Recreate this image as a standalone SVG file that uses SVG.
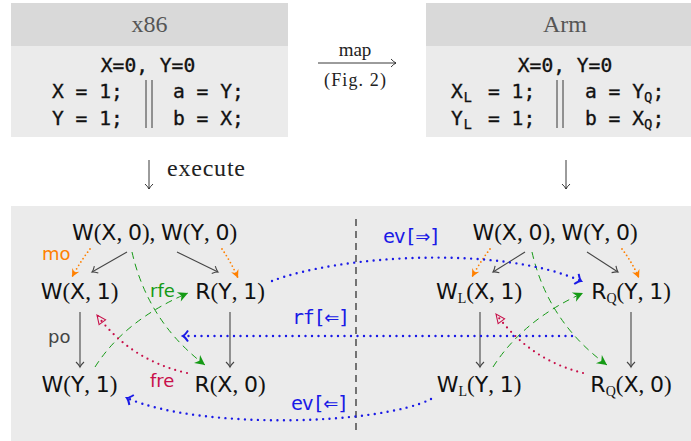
<svg xmlns="http://www.w3.org/2000/svg" width="691" height="441" viewBox="0 0 691 441">
<style>
.hd{fill:#d9d9d9}
.bd{fill:#ebebeb}
.h{font-family:"Liberation Serif",serif;font-size:24px;fill:#555}
.c{font-family:"DejaVu Sans Mono",monospace;font-size:19.6px;fill:#111;stroke:#111;stroke-width:0.35}
.cs{font-size:14px;stroke-width:0.25}
.rm{font-family:"Liberation Serif",serif;fill:#222}
.n{font-family:"DejaVu Sans",sans-serif;font-size:22px;fill:#111}
.p{font-family:"Liberation Serif",serif;font-size:23px}
.sub{font-family:"Liberation Serif",serif;font-size:14px}
.lbl{font-family:"DejaVu Sans",sans-serif;font-size:18px}
.bl{font-family:"DejaVu Sans Mono",monospace;font-size:20px;letter-spacing:-1.3px;fill:#1a1ae6}
.ar{font-family:"DejaVu Sans",sans-serif;font-size:18px}
.g{fill:none;stroke:#444;stroke-width:1.1}
.o{fill:none;stroke:#ff8000;stroke-width:1.8;stroke-dasharray:0 4;stroke-linecap:round}
.gr{fill:none;stroke:#159a15;stroke-width:1;stroke-dasharray:7 5}
.cr{fill:none;stroke:#c8104a;stroke-width:2.2;stroke-dasharray:0 6;stroke-linecap:round}
.b{fill:none;stroke:#1a1ae6;stroke-width:2.4;stroke-dasharray:0 6.5;stroke-linecap:round}
.k{fill:none;stroke:#222;stroke-width:0.9}
</style>
<defs>
<marker id="mg" viewBox="-8 -6 10 12" refX="0" refY="0" markerWidth="10" markerHeight="12" markerUnits="userSpaceOnUse" orient="auto" overflow="visible"><path d="M-5,-4 Q-2,-0.8 0,0 Q-2,0.8 -5,4" fill="none" stroke="#444" stroke-width="1.1"/></marker>
<marker id="mk" viewBox="-8 -6 10 12" refX="0" refY="0" markerWidth="10" markerHeight="12" markerUnits="userSpaceOnUse" orient="auto" overflow="visible"><path d="M-5,-4 Q-2,-0.8 0,0 Q-2,0.8 -5,4" fill="none" stroke="#222" stroke-width="0.9"/></marker>
<marker id="mo" viewBox="-10 -6 12 12" refX="0" refY="0" markerWidth="12" markerHeight="12" markerUnits="userSpaceOnUse" orient="auto" overflow="visible"><path d="M0,0 L-8,-4 L-5.5,0 L-8,4 Z" fill="#ff8000"/></marker>
<marker id="mgr" viewBox="-12 -6 14 12" refX="0" refY="0" markerWidth="14" markerHeight="12" markerUnits="userSpaceOnUse" orient="auto" overflow="visible"><path d="M0,0 L-10,-5 L-7,0 L-10,5 Z" fill="#159a15"/></marker>
<marker id="mcr" viewBox="-12 -6 14 12" refX="0" refY="0" markerWidth="14" markerHeight="12" markerUnits="userSpaceOnUse" orient="auto" overflow="visible"><path d="M0,0 L-9,-4 L-9,4 Z" fill="none" stroke="#c8104a" stroke-width="1.1"/></marker>
<marker id="mb" viewBox="-8 -7 10 14" refX="0" refY="0" markerWidth="10" markerHeight="14" markerUnits="userSpaceOnUse" orient="auto" overflow="visible"><path d="M-5,-5.5 Q-2,-1 0,0 Q-2,1 -5,5.5" fill="none" stroke="#1a1ae6" stroke-width="2"/></marker>
</defs>

<g id="x86-box">
<rect class="hd" x="11" y="3" width="277" height="43"/>
<rect class="bd" x="11" y="46" width="277" height="91"/>
<text class="h" x="149.5" y="32" text-anchor="middle">x86</text>
<text class="c" x="148" y="72" text-anchor="middle">X=0, Y=0</text>
<text class="c" x="52" y="98">X = 1;</text>
<text class="c" x="52" y="125">Y = 1;</text>
<text class="c" x="173" y="98">a = Y;</text>
<text class="c" x="173" y="125">b = X;</text>
<path class="k" d="M146,80 V128 M152,80 V128" stroke-width="1"/>
</g>

<g id="arm-box">
<rect class="hd" x="426" y="3" width="278" height="43"/>
<rect class="bd" x="426" y="46" width="278" height="91"/>
<text class="h" x="565" y="32" text-anchor="middle">Arm</text>
<text class="c" x="565" y="72" text-anchor="middle">X=0, Y=0</text>
<text class="c" y="98"><tspan x="451">X</tspan><tspan class="cs" x="463.5" dy="4">L</tspan><tspan x="488" dy="-4">= 1;</tspan></text>
<text class="c" y="125"><tspan x="451">Y</tspan><tspan class="cs" x="463.5" dy="4">L</tspan><tspan x="488" dy="-4">= 1;</tspan></text>
<text class="c" x="585" y="98">a = Y<tspan class="cs" dy="4">Q</tspan><tspan dy="-4">;</tspan></text>
<text class="c" x="585" y="125">b = X<tspan class="cs" dy="4">Q</tspan><tspan dy="-4">;</tspan></text>
<path class="k" d="M557,80 V128 M563,80 V128" stroke-width="1"/>
</g>

<g id="map">
<text class="rm" x="355" y="56" font-size="19" text-anchor="middle">map</text>
<path class="k" d="M318,63 H396" marker-end="url(#mk)"/>
<text class="rm" x="355" y="86" font-size="18" text-anchor="middle" textLength="62" lengthAdjust="spacing">(Fig. 2)</text>
</g>

<g id="execute-left">
<path class="k" d="M149,160 V189" marker-end="url(#mk)"/>
<text class="rm" x="167" y="176" font-size="24" textLength="78" lengthAdjust="spacing">execute</text>
</g>
<g id="execute-right">
<path class="k" d="M566,160 V189" marker-end="url(#mk)"/>
</g>

<rect id="panel" class="bd" x="11" y="206" width="690" height="240"/>
<path id="divider" d="M356,219 V430" fill="none" stroke="#111" stroke-width="1.1" stroke-dasharray="7 5"/>

<g id="edges">
<path class="g" d="M127,252 L92,272" marker-end="url(#mg)"/>
<path class="g" d="M177,252 L218,272" marker-end="url(#mg)"/>
<path class="g" d="M80,312 V367" marker-end="url(#mg)"/>
<path class="g" d="M230,312 V367" marker-end="url(#mg)"/>
<path class="o" d="M90,249 Q80,262 72,277" marker-end="url(#mo)"/>
<path class="o" d="M222,249 Q231,262 238,278" marker-end="url(#mo)"/>
<path class="gr" d="M132,252 Q148,322 205,365" marker-end="url(#mgr)"/>
<path class="gr" d="M95,367 Q125,320 188,293" marker-end="url(#mgr)"/>
<path class="cr" d="M187,373 Q130,360 97,315" marker-end="url(#mcr)"/>
<path class="g" d="M525,252 L493,272" marker-end="url(#mg)"/>
<path class="g" d="M587,252 L618,272" marker-end="url(#mg)"/>
<path class="g" d="M480,312 V367" marker-end="url(#mg)"/>
<path class="g" d="M631,312 V367" marker-end="url(#mg)"/>
<path class="o" d="M490,249 Q480,262 472,277" marker-end="url(#mo)"/>
<path class="o" d="M622,249 Q632,262 639,278" marker-end="url(#mo)"/>
<path class="gr" d="M532,252 Q548,322 607,365" marker-end="url(#mgr)"/>
<path class="gr" d="M493,367 Q523,320 583,293" marker-end="url(#mgr)"/>
<path class="cr" d="M583,373 Q530,360 496,314" marker-end="url(#mcr)"/>
<path class="b" d="M272,281 C340,255 500,245 581,281" marker-end="url(#mb)"/>
<path class="b" d="M572,336 H183" marker-end="url(#mb)"/>
<path class="b" d="M431,399 C380,425 200,430 127,398" marker-end="url(#mb)"/>
<text class="lbl" x="42" y="260" fill="#ff8000">mo</text>
<text class="lbl" x="48" y="343" fill="#444">po</text>
<text class="lbl" x="150" y="297" fill="#159a15">rfe</text>
<text class="lbl" x="150" y="387" fill="#c8104a">fre</text>
<text class="bl" x="383" y="243">ev[<tspan class="ar">⇒</tspan>]</text>
<text class="bl" x="292" y="324">rf[<tspan class="ar">⇐</tspan>]</text>
<text class="bl" x="291" y="410">ev[<tspan class="ar">⇐</tspan>]</text>
</g>

<g id="l-init"><text class="n" x="154.5" y="240" text-anchor="middle">W<tspan class="p">(</tspan>X<tspan class="p">, </tspan>0<tspan class="p">), </tspan>W<tspan class="p">(</tspan>Y<tspan class="p">, </tspan>0<tspan class="p">)</tspan></text></g>
<g id="l-wx1"><text class="n" x="79.5" y="299" text-anchor="middle">W<tspan class="p">(</tspan>X<tspan class="p">, </tspan>1<tspan class="p">)</tspan></text></g>
<g id="l-ry1"><text class="n" x="230" y="299" text-anchor="middle">R<tspan class="p">(</tspan>Y<tspan class="p">, </tspan>1<tspan class="p">)</tspan></text></g>
<g id="l-wy1"><text class="n" x="79.5" y="392" text-anchor="middle">W<tspan class="p">(</tspan>Y<tspan class="p">, </tspan>1<tspan class="p">)</tspan></text></g>
<g id="l-rx0"><text class="n" x="230" y="392" text-anchor="middle">R<tspan class="p">(</tspan>X<tspan class="p">, </tspan>0<tspan class="p">)</tspan></text></g>

<g id="r-init"><text class="n" x="555" y="240" text-anchor="middle">W<tspan class="p">(</tspan>X<tspan class="p">, </tspan>0<tspan class="p">), </tspan>W<tspan class="p">(</tspan>Y<tspan class="p">, </tspan>0<tspan class="p">)</tspan></text></g>
<g id="r-wx1"><text class="n" x="479" y="299" text-anchor="middle">W<tspan class="sub" dy="4">L</tspan><tspan class="p" dy="-4">(</tspan>X<tspan class="p">, </tspan>1<tspan class="p">)</tspan></text></g>
<g id="r-ry1"><text class="n" x="631" y="299" text-anchor="middle">R<tspan class="sub" dy="4">Q</tspan><tspan class="p" dy="-4">(</tspan>Y<tspan class="p">, </tspan>1<tspan class="p">)</tspan></text></g>
<g id="r-wy1"><text class="n" x="479" y="392" text-anchor="middle">W<tspan class="sub" dy="4">L</tspan><tspan class="p" dy="-4">(</tspan>Y<tspan class="p">, </tspan>1<tspan class="p">)</tspan></text></g>
<g id="r-rx0"><text class="n" x="631" y="392" text-anchor="middle">R<tspan class="sub" dy="4">Q</tspan><tspan class="p" dy="-4">(</tspan>X<tspan class="p">, </tspan>0<tspan class="p">)</tspan></text></g>
</svg>
